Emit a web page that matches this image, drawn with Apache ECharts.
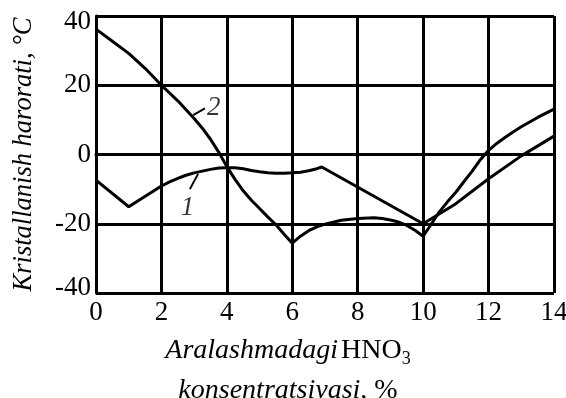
<!DOCTYPE html>
<html>
<head>
<meta charset="utf-8">
<script src="https://cdn.jsdelivr.net/npm/echarts@6/dist/echarts.min.js"></script>
<style>
  html, body { margin: 0; padding: 0; background: #fff; }
  #chart { width: 566px; height: 398px; }
</style>
</head>
<body>
<div id="chart"></div>
<script>
// curve 2 (starts high on the left)
var curve2 = [
  [0, 36.2], [0.5, 32.7], [1, 29.2], [1.5, 24.9], [2, 20], [2.5, 15.5], [3, 10.4],
  [3.25, 7.6], [3.5, 4.4], [3.75, 0.7], [4, -3.5], [4.25, -7.2], [4.5, -10.5],
  [4.75, -13.2], [5, -15.6], [5.25, -18], [5.5, -20.3], [5.75, -23], [6, -25.6],
  [6.25, -23.6], [6.5, -22], [6.75, -20.9], [7, -20.1], [7.5, -19], [8, -18.5],
  [8.5, -18.3], [8.75, -18.5], [9, -18.9], [9.25, -19.5], [9.5, -20.5], [9.75, -21.9],
  [10, -23.6], [10.2, -20.8], [10.5, -16.5], [10.75, -13.6], [11, -10.9], [11.25, -7.8],
  [11.5, -4.8], [11.75, -1.5], [12, 1.2], [12.25, 3.2], [12.5, 4.9], [12.75, 6.5],
  [13, 8], [13.5, 10.7], [14, 13.1]
];
// curve 1 (starts near -7)
var curve1 = [
  [0, -7.4], [1, -15.1], [2, -9.1], [2.25, -7.9], [2.5, -6.9], [2.75, -6], [3, -5.3],
  [3.25, -4.8], [3.5, -4.3], [3.75, -3.9], [4, -3.8], [4.25, -3.8], [4.5, -4.1],
  [4.75, -4.6], [5, -5], [5.25, -5.3], [5.5, -5.4], [5.75, -5.4], [6, -5.3],
  [6.25, -5.1], [6.5, -4.7], [6.75, -4.1], [6.9, -3.6],
  [10, -20], [11, -14.2], [12, -7], [13, -0.4], [14, 5.3]
];
// curve labels and their little leader strokes
var labelNames = ['2', '1'];
var labelPos = [[3.6, 13.4], [2.8, -15.5]];
var leader2 = [[2.97, 11.4], [3.33, 13.3]];
var leader1 = [[2.87, -10], [3.12, -5.6]];

var xTicks = [0, 2, 4, 6, 8, 10, 12, 14];
var yTicks = [-40, -20, 0, 20, 40];

var FONT = '"Liberation Serif", "DejaVu Serif", serif';

var myChart = echarts.init(document.getElementById('chart'));
var option = {
    backgroundColor: '#fff',
    animation: false,
    grid: { left: 96, right: 12, top: 16, bottom: 105, containLabel: false, outerBoundsMode: 'none' },
    xAxis: {
        type: 'value',
        min: xTicks[0],
        max: xTicks[xTicks.length - 1],
        interval: 2,
        axisLine: { show: true, lineStyle: { color: '#000', width: 3 } },
        axisTick: { show: false },
        splitLine: { show: true, lineStyle: { color: '#000', width: 3 } },
        axisLabel: { color: '#000', fontFamily: FONT, fontSize: 27, margin: 6 },
        name: '{i|Aralashmadagi} {r|HNO}{s|3}\n{i|konsentratsiyasi}{r|, %}',
        nameLocation: 'middle',
        nameGap: 34,
        nameTextStyle: {
            color: '#000',
            fontFamily: FONT,
            lineHeight: 40,
            padding: [0, 74, 0, 0],
            rich: {
                i: { fontFamily: FONT, fontSize: 28, fontStyle: 'italic', color: '#000', lineHeight: 40 },
                r: { fontFamily: FONT, fontSize: 28, color: '#000', lineHeight: 40 },
                s: { fontFamily: FONT, fontSize: 18, color: '#000', lineHeight: 40, padding: [16, 0, 0, 0] }
            }
        }
    },
    yAxis: {
        type: 'value',
        min: yTicks[0],
        max: yTicks[yTicks.length - 1],
        interval: 20,
        axisLine: { show: true, lineStyle: { color: '#000', width: 3 } },
        axisTick: { show: false },
        splitLine: { show: true, lineStyle: { color: '#000', width: 3 } },
        axisLabel: {
            color: '#000', fontFamily: FONT, fontSize: 27, margin: 5,
            formatter: function (v) {
                if (v === yTicks[yTicks.length - 1]) return '{t|' + v + '}';
                if (v === yTicks[0]) return '{b|' + v + '}';
                return '{m|' + v + '}';
            },
            rich: {
                t: { fontFamily: FONT, fontSize: 27, color: '#000', padding: [12, 0, 0, 0] },
                b: { fontFamily: FONT, fontSize: 27, color: '#000', padding: [0, 0, 11, 0] },
                m: { fontFamily: FONT, fontSize: 27, color: '#000' }
            }
        },
        name: 'Kristallanish harorati, °C',
        nameLocation: 'middle',
        nameGap: 58,
        nameTextStyle: { color: '#000', fontFamily: FONT, fontSize: 26.5, fontStyle: 'italic' }
    },
    series: [
        {
            name: '2', type: 'line', data: curve2, symbol: 'none',
            lineStyle: { color: '#000', width: 3 }, z: 5
        },
        {
            name: '1', type: 'line', data: curve1, symbol: 'none',
            lineStyle: { color: '#000', width: 3 }, z: 5
        },
        {
            name: 'leader2', type: 'line', data: leader2, symbol: 'none',
            lineStyle: { color: '#000', width: 2 }, z: 5
        },
        {
            name: 'leader1', type: 'line', data: leader1, symbol: 'none',
            lineStyle: { color: '#000', width: 2 }, z: 5
        },
        {
            name: 'labels', type: 'scatter', symbolSize: 0, z: 6,
            data: labelPos.map(function (p, i) { return { value: p, name: labelNames[i] }; }),
            label: {
                show: true, position: 'inside', formatter: '{b}',
                color: '#000', fontFamily: FONT, fontSize: 27, fontStyle: 'italic'
            }
        }
    ]
};
myChart.setOption(option);
</script>
</body>
</html>
